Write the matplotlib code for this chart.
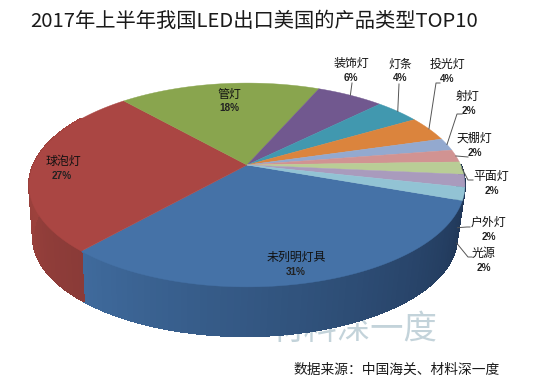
import numpy as np
import matplotlib
matplotlib.use('Agg')
import matplotlib.pyplot as plt
from matplotlib.colors import to_rgb

plt.rcParams['font.family'] = ['Noto Sans CJK SC', 'DejaVu Sans']

# chart data, clockwise from the blue slice
categories = ['未列明灯具', '球泡灯', '管灯', '装饰灯', '灯条', '投光灯', '射灯', '天棚灯', '平面灯', '户外灯', '光源']
values = [31, 27, 18, 6, 4, 4, 2, 2, 2, 2, 2]
slice_colors = ['#4572A7', '#AA4643', '#89A54E', '#71588F', '#4198AF', '#DB843D',
                '#93A9CF', '#D19392', '#B9CD96', '#A99BBD', '#92C3D4']
title = '2017年上半年我国LED出口美国的产品类型TOP10'
source = '数据来源：中国海关、材料深一度'
watermark = '材料深一度'

# label layout in pixels: name centre, percent centre
name_xy = [(296, 257), (63, 161), (229, 94), (351, 63), (400, 64), (447, 64),
           (468, 96), (474, 138), (491, 176), (488, 222), (484, 253)]
pct_xy = [(296, 272), (62, 176), (229, 108), (351, 78), (400, 78), (447, 79),
          (469, 111), (475, 153), (492, 191), (489, 237), (484, 268)]
# leader line elbows, the last point comes from the slice itself
leader_elbows = {3: [(352, 83)], 4: [(399, 84)], 5: [(440, 83), (436, 83)],
                 6: [(462, 114), (457, 114)], 7: [(468, 157)], 8: [(473, 180), (468, 180)],
                 9: [(470, 227), (467, 227)], 10: [(472, 257), (468, 257)]}
leader_wall = {9: 0.9, 10: 0.95}

# perspective of the disc
CX, CY = 247, 165
A, B, K = 98, 213.7, 0.196
BOTTOM_SCALE, BOTTOM_CY, BOTTOM_CX = 0.973, 217.5, 245


def project(angle, scale=1.0, cx=CX, cy=CY):
    # angle in degrees clockwise from the back of the pie
    a = np.radians(angle)
    u, v = np.sin(a), -np.cos(a)
    w = 1 - K * v
    return cx + scale * B * u / w, cy + scale * A * v / w


def shade(c1, c2, t):
    c1, c2 = np.array(to_rgb(c1)), np.array(to_rgb(c2))
    return tuple(c1 + (c2 - c1) * t)


def wall(a0, a1, c0, c1):
    # side wall as thin strips so it can fade from c0 to c1
    angles = np.linspace(a0, a1, 90)
    for i in range(len(angles) - 1):
        pair = angles[i:i + 2]
        tx, ty = project(pair)
        bx, by = project(pair, BOTTOM_SCALE, BOTTOM_CX, BOTTOM_CY)
        col = shade(c0, c1, i / (len(angles) - 2))
        ax.fill(np.r_[tx, bx[::-1]], np.r_[ty, by[::-1]], color=col, lw=0.8, antialiased=False, zorder=2)


fig = plt.figure(figsize=(5.41, 3.92), dpi=100, facecolor='white')
ax = fig.add_axes([0, 0, 1, 1])
ax.set_xlim(0, 541)
ax.set_ylim(392, 0)
ax.axis('off')

fig.text(30 / 541, 1 - 21 / 392, title, fontsize=14.6, color='#1a1a1a', ha='left', va='center')
ax.text(500, 370, source, fontsize=9.9, color='#1a1a1a', ha='right', va='center')
ax.text(354, 329, watermark, fontsize=24, color='#c3d3da', ha='center', va='center', zorder=1)

# slice edges in degrees, the first slice starts right of the centre
start = 109.8
edges = start + np.cumsum([0] + values) * 3.6

wall(edges[0] - 20, edges[1], '#1b2f4d', '#3f6a9c')
wall(edges[1], edges[1] + 80, '#8a3b38', '#a8453f')

for i, cat in enumerate(categories):
    angles = np.linspace(edges[i], edges[i + 1], 120)
    x, y = project(angles)
    ax.fill(np.r_[CX, x], np.r_[CY, y], color=slice_colors[i], lw=0.3, zorder=3)

for i, cat in enumerate(categories):
    ax.text(*name_xy[i], cat, fontsize=8.6, color='#111111', ha='center', va='center', zorder=5)
    ax.text(*pct_xy[i], f'{values[i]}%', fontsize=7.2, fontweight='bold', family='Liberation Sans',
            color='#222222', ha='center', va='center', zorder=5)
    if i in leader_elbows:
        mid = (edges[i] + edges[i + 1]) / 2
        ex, ey = project(mid)
        if i in leader_wall:
            bx, by = project(mid, BOTTOM_SCALE, BOTTOM_CX, BOTTOM_CY)
            ex += (bx - ex) * leader_wall[i]
            ey += (by - ey) * leader_wall[i]
        pts = leader_elbows[i] + [(ex, ey)]
        ax.plot([p[0] for p in pts], [p[1] for p in pts], color='#555555', lw=0.7, zorder=4)

fig.savefig('out.png', dpi=100)
